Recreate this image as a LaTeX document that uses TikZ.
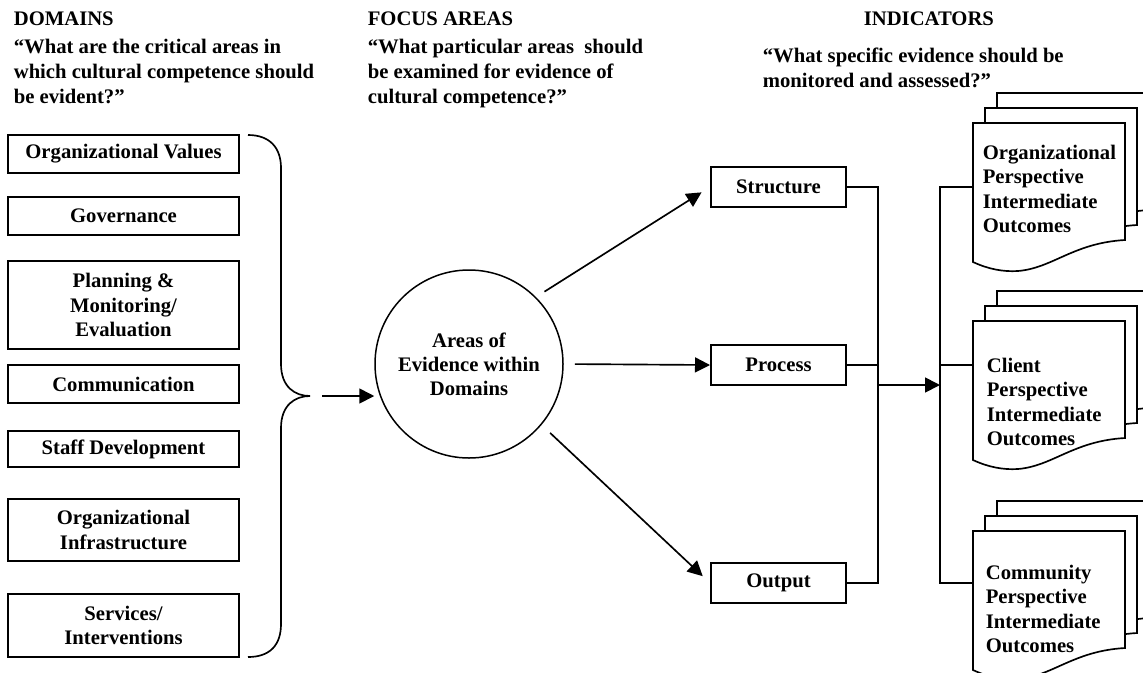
\documentclass[tikz,border=0pt]{standalone}
\usepackage{fontspec}
\setmainfont{Liberation Serif}
\usetikzlibrary{arrows.meta}

\tikzset{
  headtext/.style={inner sep=0pt, font=\fontsize{12.4pt}{15pt}\selectfont\bfseries},
  asktext/.style={inner sep=0pt, align=left, font=\fontsize{12.4pt}{15pt}\selectfont\bfseries},
  domainbox/.style={draw, line width=1.2pt, minimum width=138.6pt, inner sep=0pt, align=center, font=\fontsize{12.4pt}{14.7pt}\selectfont\bfseries},
  focusbox/.style={draw, line width=1.2pt, minimum width=81pt, minimum height=24pt, inner sep=0pt, font=\fontsize{12.4pt}{14.7pt}\selectfont\bfseries},
  areacircle/.style={circle, draw, line width=0.9pt, minimum size=112.8pt, inner sep=0pt, align=center, font=\fontsize{12.4pt}{14.4pt}\selectfont\bfseries},
  docpage/.style={draw, fill=white, line width=1pt},
  doctext/.style={inner sep=0pt, align=left, anchor=north west, font=\fontsize{12.4pt}{14.7pt}\selectfont\bfseries},
}

\begin{document}
\begin{tikzpicture}[x=0.6pt, y=-0.6pt, line width=1pt, >={Triangle[length=9pt, width=9pt]}]
\useasboundingbox (0,0) rectangle (1143,672);

% column heads
\node[headtext, anchor=base west] (domhead) at (13,25) {DOMAINS};
\node[headtext, anchor=base west] (focushead) at (367,25) {FOCUS AREAS};
\node[headtext, anchor=base west] (indhead) at (863,25) {INDICATORS};
\node[asktext, anchor=north west] (domask) at (13,38) {``What are the critical areas in\\which cultural competence should\\be evident?''};
\node[asktext, anchor=north west] (focusask) at (367,38) {``What particular areas~ should\\be examined for evidence of\\cultural competence?''};
\node[asktext, anchor=north west] (indask) at (762,47) {``What specific evidence should be\\monitored and assessed?''};

% domains
\node[domainbox, minimum height=22.8pt] (orgvalues) at (123.5,154) {Organizational Values};
\node[domainbox, minimum height=22.8pt] (governance) at (123.5,216) {Governance};
\node[domainbox, minimum height=52.8pt] (planning) at (123.5,305) {Planning \&\\Monitoring/\\Evaluation};
\node[domainbox, minimum height=22.8pt] (communication) at (123.5,384) {Communication};
\node[domainbox, minimum height=21.6pt] (staffdev) at (123.5,449) {Staff Development};
\node[domainbox, minimum height=37.2pt] (infrastructure) at (123.5,530) {Organizational\\Infrastructure};
\node[domainbox, minimum height=37.8pt] (services) at (123.5,625.5) {Services/\\Interventions};

% brace
\draw (248,135) .. controls (270,135) and (281,148) .. (281,168) -- (281,364)
  .. controls (281,387) and (295,396) .. (310,396)
  .. controls (295,396) and (281,405) .. (281,428) -- (281,624)
  .. controls (281,645) and (270,657) .. (248,657);
\coordinate (bracetip) at (310,396);

% focus areas
\node[areacircle] (areas) at (469,364) {Areas of\\Evidence within\\Domains};
\node[focusbox] (structure) at (778.5,187) {Structure};
\node[focusbox] (process) at (778.5,365) {Process};
\node[focusbox] (output) at (778.5,583) {Output};

\draw[->, shorten <=7.2pt] (bracetip) -- (areas.west |- bracetip);
\draw[->, shorten <=6pt, shorten >=6pt] (areas.45) -- (structure.west);
\draw[->, shorten <=6.6pt] (areas.east) -- (process.west);
\draw[->, shorten <=7pt, shorten >=6pt] (areas.-40) -- (output.west);

% indicators
\foreach \docname/\doctop in {orgdoc/123, clidoc/321, comdoc/531} {
  \foreach \dx/\dy in {24/-30, 12/-15, 0/0} {
    \draw[docpage] ({973+\dx},{\doctop+\dy}) -- ++(152,0) -- ++(0,117)
      .. controls ++(-52,3) and ++(35,-3) .. ++(-107,31)
      .. controls ++(-15,1) and ++(15,7) .. ++(-45,-9) -- cycle;
  }
  \node[inner sep=0pt, minimum width=91.2pt, minimum height=83.4pt, anchor=north west] (\docname) at (973,\doctop) {};
}
\node[doctext] (orgtext) at (982,144) {Organizational\\Perspective\\Intermediate\\Outcomes};
\node[doctext] (clitext) at (986,357) {Client\\Perspective\\Intermediate\\Outcomes};
\node[doctext] (comtext) at (985,564) {Community\\Perspective\\Intermediate\\Outcomes};

% joins
\draw (structure.east) -- ++(31,0) coordinate (fjoin) |- (output.east);
\draw (process.east) -- (fjoin |- process.east);
\coordinate (rjoin) at (940,385);
\draw[->] (fjoin |- rjoin) -- (rjoin);
\draw (orgdoc.west |- structure.east) -| (rjoin |- output.east) -- (comdoc.west |- output.east);
\draw (rjoin |- process.east) -- (clidoc.west |- process.east);
\end{tikzpicture}
\end{document}
